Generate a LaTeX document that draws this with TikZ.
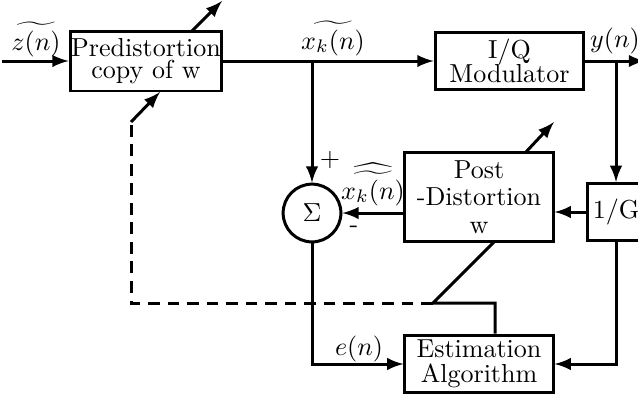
\documentclass[tikz,border=0pt]{standalone}
\usetikzlibrary{arrows}
\begin{document}
\begin{tikzpicture}[x=0.0135cm,y=-0.0135cm,line width=1.15pt,
    block/.style={draw,rectangle,inner sep=0pt,align=center,minimum width=2cm},
    sumnode/.style={draw,circle,inner sep=0pt,minimum size=0.78cm},
    tag/.style={anchor=base,inner sep=0pt}]
    \useasboundingbox (0,0) rectangle (638,398);
    % blocks
    \node [block,minimum width=2.05cm,minimum height=0.81cm] (pre) at (146,61) {Predistortion\\[-3.7pt]copy of w};
    \node [block,minimum width=2.01cm,minimum height=0.78cm] (iq) at (509.5,61) {I/Q\\[-3pt]Modulator};
    \node [block,minimum height=1.19cm] (post) at (479,197) {Post\\[-1.5pt]-Distortion\\[-1.5pt]w};
    \node [block,minimum width=0.78cm,minimum height=0.77cm] (inv) at (616,212) {1/G};
    \node [block,minimum height=0.78cm] (est) at (479,364) {Estimation\\[-2.5pt]Algorithm};
    \node [sumnode] (sum) at (312,213) {$\Sigma$};
    % free ends
    \coordinate (in) at (2,61);
    \coordinate (out) at (645,61);
    \coordinate (xk) at (sum.north |- pre.east);
    \coordinate (yn) at (inv.north |- iq.east);
    % forward path
    \draw [-latex] (in) -- (pre.west);
    \draw [-latex] (pre.east) -- (iq.west);
    \draw [-latex] (iq.east) -- (out);
    \draw [-latex] (xk) -- (sum.north);
    \draw [-latex] (yn) -- (inv.north);
    \draw [-latex] (inv.west) -- (inv.west -| post.east);
    \draw [-latex] (post.west |- sum.east) -- (sum.east);
    \draw [-latex] (sum.south) |- (est.west);
    \draw [-latex] (inv.south) |- (est.east);
    % adaptation arrows
    \coordinate (a1) at (192,31);
    \coordinate (a2) at (222,1);
    \coordinate (b1) at (525,153);
    \coordinate (b2) at (554,122);
    \coordinate (c1) at (495,241);
    \coordinate (c2) at (433,303);
    \coordinate (c3) at (495,303);
    \coordinate (d1) at (131,303);
    \coordinate (d2) at (131,122);
    \coordinate (d3) at (160,92);
    \draw [-latex] (a1) -- (a2);
    \draw [-latex] (b1) -- (b2);
    \draw (c1) -- (c2) -- (c3) -- (c3 |- est.north);
    \draw [dash pattern=on 4.5pt off 3pt] (c2) -- (d1) -- (d2);
    \draw [-latex] (d2) -- (d3);
    % labels
    \node [tag] (lz) at (36,50) {$\widetilde{z(n)}$};
    \node [tag] (lx) at (333,49) {$\widetilde{x_k(n)}$};
    \node [tag] (ly) at (615,47) {$y(n)$};
    \node [tag] (lh) at (373,199) {$\widehat{\widetilde{x_k(n)}}$};
    \node [tag] (le) at (359,355) {$e(n)$};
    \node (plus) at (330,160) {$+$};
    \node (minus) at (354,229) {-};
\end{tikzpicture}
\end{document}
